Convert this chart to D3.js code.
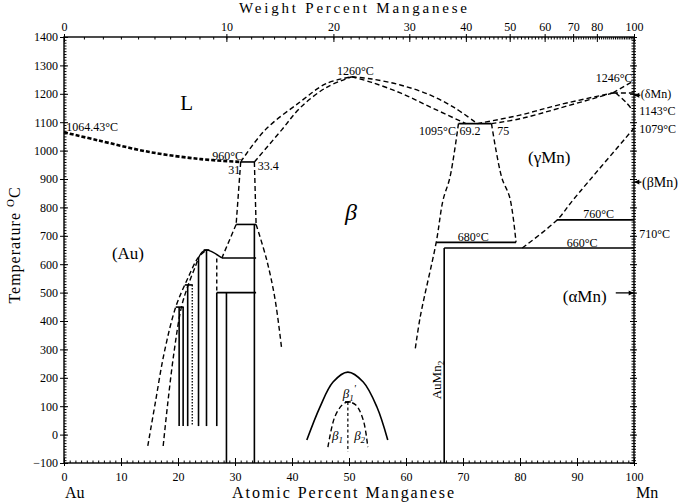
<!DOCTYPE html>
<html><head><meta charset="utf-8">
<script src="https://cdn.jsdelivr.net/npm/d3@7"></script>
<style>body{margin:0;background:#fff}</style>
</head><body><svg id="c" width="685" height="504"></svg>
<script>
// ---------------- DATA ----------------
const atTicks   = [0,10,20,30,40,50,60,70,80,90,100];
const wtTicks   = [0,10,20,30,40,50,60,70,80,100];
const tempTicks = [-100,0,100,200,300,400,500,600,700,800,900,1000,1100,1200,1300,1400];

// liquidus / solidus (at.% Mn, °C)
const liqAu      = [[0,1064.43],[6,1036],[15,995],[24,970],[31,960]];
const betaLiqL   = [[31,960],[35.3,1073],[41.4,1171],[46,1236],[50.5,1260]];
const betaSolL   = [[33.4,960],[38.2,1073],[41.4,1150],[46,1222],[50.5,1260]];
const betaLiqR   = [[50.5,1260],[54,1252],[59,1231],[64.2,1196],[68.5,1151],[72.5,1095]];
const betaSolR   = [[50.5,1260],[54,1240],[59,1203],[64.2,1154],[70.5,1095]];
const gamLiq     = [[72.5,1095],[80,1125],[87,1162],[96.3,1203]];
const gamSol     = [[75,1095],[80,1112],[87,1150],[96.3,1203]];
const deltaLiq   = [[96.3,1203],[100,1246]];
const deltaPer   = [[96.3,1203],[100,1203]];
const deltaGam   = [[96.8,1203],[98.6,1170],[99.7,1143]];
const gamBeta    = [[80.4,657],[86.5,756],[89.3,826],[100,1079]];

// solid-state boundaries (dashed)
const auOuter    = [[14.7,-40],[16.0,110],[17.6,290],[19.6,449],[21.6,545],[23.6,625],[25,650]];
const auInner    = [[17.4,-40],[18.2,110],[19.3,290],[20.6,449],[21.8,527],[23.0,590],[23.6,622]];
const b960L      = [[31,960],[30.2,740]];
const b740L      = [[30.2,740],[27.7,622]];
const b960R      = [[33.4,960],[33.7,740]];
const betaLowL   = [[33.7,740],[35.5,620],[37,480],[38.2,300]];
const betaHighL  = [[69.2,1095],[67.7,905],[66.5,826],[65.3,677],[62.5,415],[61.6,298]];
const betaHighR  = [[75,1095],[76.8,905],[78.2,835],[79.3,677]];
const b1Inner    = [[46.3,-44],[47.5,62],[48.8,104],[49.8,115],[51.2,104],[52.5,51],[53.3,-44]];
const b1Center   = [[49.8,115],[49.8,-60]];

// solid lines
const b1Dome     = [[42.6,-19],[44.9,97],[47.2,185],[49.8,220],[52.5,185],[54.9,97],[56.8,-19]];
const au3Dome    = [[23.6,622],[24.2,642],[25,650],[26,643],[27.7,622]];
// horizontals: [xFrom, xTo, T]
const isotherms  = [[31,33.4,960],[30.2,33.7,740],[27.7,33.7,622],[26.8,33.7,500],
                    [19.6,21.0,449],[21.2,22.6,527],[24.5,25.5,650],[49.3,50.3,115],
                    [69.2,75,1095],[65.3,79.3,677],[66.7,100,657],[86.5,100,756]];
// verticals: [x, Ttop, Tbottom]
const solidVert  = [[20.2,449,30],[20.9,449,30],[21.7,527,30],[23.6,622,30],[25.0,650,30],
                    [26.8,500,30],[28.5,500,-100],[33.4,740,-100],[66.7,657,-100]];
const dottedVert = [[22.5,527,30]];
const dashedVert = [[26.8,620,500]];

// ---------------- LAYOUT ----------------
const svg = d3.select('#c');
const x = d3.scaleLinear().domain([0,100]).range([64,634]);
const y = d3.scaleLinear().domain([-100,1400]).range([463,37]);
const wtToAt = w => { const a=w/54.938, b=(100-w)/196.967; return 100*a/(a+b); };
const SERIF = "'Liberation Serif','DejaVu Serif',serif";

svg.append('rect').attr('width',685).attr('height',504).attr('fill','#fff');

function styleAxis(g){
  g.select('.domain').remove();
  g.selectAll('line').attr('stroke','#000').attr('stroke-width',1);
  g.selectAll('text').attr('font-family',SERIF).attr('font-size',12).attr('fill','#000');
}
const blank = () => '';
const fmt = d3.format('d');
const atMinor = d3.range(0,101,1);
const wtMinor = d3.range(0,101,1).map(wtToAt);
const tMinor  = d3.range(-100,1401,10);

// bottom
const gb = svg.append('g').attr('transform',`translate(0,${y(-100)})`);
gb.append('g').call(d3.axisBottom(x).tickValues(atTicks).tickSize(3).tickPadding(6).tickFormat(fmt)).call(styleAxis);
gb.append('g').call(d3.axisBottom(x).tickValues(atTicks).tickSize(-5).tickFormat(blank)).call(styleAxis);
gb.append('g').call(d3.axisBottom(x).tickValues(atMinor).tickSize(-2.5).tickFormat(blank)).call(styleAxis);
// top (weight percent)
const gt = svg.append('g').attr('transform',`translate(0,${y(1400)})`);
gt.append('g').call(d3.axisTop(x).tickValues(wtTicks.map(wtToAt)).tickSize(3).tickPadding(3).tickFormat((d,i)=>wtTicks[i])).call(styleAxis);
gt.append('g').call(d3.axisTop(x).tickValues(wtTicks.map(wtToAt)).tickSize(-5).tickFormat(blank)).call(styleAxis);
gt.append('g').call(d3.axisTop(x).tickValues(wtMinor).tickSize(-2.5).tickFormat(blank)).call(styleAxis);
// left
const gl = svg.append('g').attr('transform',`translate(${x(0)},0)`);
gl.append('g').call(d3.axisLeft(y).tickValues(tempTicks).tickSize(4).tickPadding(2).tickFormat(fmt)).call(styleAxis);
gl.append('g').call(d3.axisLeft(y).tickValues(tempTicks).tickSize(-4).tickFormat(blank)).call(styleAxis);
gl.append('g').call(d3.axisLeft(y).tickValues(tMinor).tickSize(-2.5).tickFormat(blank)).call(styleAxis);
// right
const gr = svg.append('g').attr('transform',`translate(${x(100)},0)`);
gr.append('g').call(d3.axisRight(y).tickValues(tempTicks).tickSize(3).tickFormat(blank)).call(styleAxis);
gr.append('g').call(d3.axisRight(y).tickValues(tempTicks).tickSize(-4).tickFormat(blank)).call(styleAxis);
gr.append('g').call(d3.axisRight(y).tickValues(tMinor).tickSize(-2.5).tickFormat(blank)).call(styleAxis);
gr.append('g').call(d3.axisRight(y).tickValues(tMinor).tickSize(2).tickFormat(blank)).call(styleAxis);

// frame
svg.append('rect').attr('x',x(0)).attr('y',y(1400)).attr('width',x(100)-x(0))
  .attr('height',y(-100)-y(1400)).attr('fill','none').attr('stroke','#000').attr('stroke-width',1.4);

// ---------------- LINES ----------------
const straight = d3.line().x(d=>x(d[0])).y(d=>y(d[1]));
const smooth = d3.line().x(d=>x(d[0])).y(d=>y(d[1])).curve(d3.curveCatmullRom.alpha(0.5));
function path(pts, gen, dash, w){
  svg.append('path').attr('d',gen(pts)).attr('fill','none').attr('stroke','#000')
    .attr('stroke-width',w).attr('stroke-dasharray',dash);
}
const D = '5,3';
path(liqAu, smooth, '4,2', 2.6);
[betaLiqL,betaSolL,betaLiqR,betaSolR,gamLiq,gamSol,deltaGam,gamBeta,auOuter,auInner,
 betaLowL,betaHighL,betaHighR,b1Inner].forEach(p=>path(p, smooth, D, 1.4));
[deltaLiq,deltaPer,b960L,b740L,b960R].forEach(p=>path(p, straight, D, 1.4));
path(b1Center, straight, '3,2.5', 1.2);
path(b1Dome, smooth, null, 1.6);
path(au3Dome, smooth, null, 1.4);

svg.append('g').selectAll('line').data(isotherms).join('line')
  .attr('x1',d=>x(d[0])).attr('x2',d=>x(d[1])).attr('y1',d=>y(d[2])).attr('y2',d=>y(d[2]))
  .attr('stroke','#000').attr('stroke-width',1.6);
svg.append('g').selectAll('line').data(solidVert).join('line')
  .attr('x1',d=>x(d[0])).attr('x2',d=>x(d[0])).attr('y1',d=>y(d[1])).attr('y2',d=>y(d[2]))
  .attr('stroke','#000').attr('stroke-width',1.6);
svg.append('g').selectAll('line').data(dottedVert).join('line')
  .attr('x1',d=>x(d[0])).attr('x2',d=>x(d[0])).attr('y1',d=>y(d[1])).attr('y2',d=>y(d[2]))
  .attr('stroke','#000').attr('stroke-width',1.3).attr('stroke-dasharray','1.5,1.5');
svg.append('g').selectAll('line').data(dashedVert).join('line')
  .attr('x1',d=>x(d[0])).attr('x2',d=>x(d[0])).attr('y1',d=>y(d[1])).attr('y2',d=>y(d[2]))
  .attr('stroke','#000').attr('stroke-width',1.4).attr('stroke-dasharray','4,3');

// ---------------- ARROWS ----------------
const arrows = [[101.1,100.05,1195],[101.3,100.05,889],[96.8,99.95,499]];
arrows.forEach(a=>{
  const x1=x(a[0]), x2=x(a[1]), yy=y(a[2]), dir = x2>x1?1:-1;
  svg.append('line').attr('x1',x1).attr('x2',x2).attr('y1',yy).attr('y2',yy).attr('stroke','#000').attr('stroke-width',1.3);
  svg.append('path').attr('d',`M${x2},${yy} l${-dir*5},-2.5 l0,5 z`).attr('fill','#000');
});

// ---------------- TEXT ----------------
function label(t, xv, tv, size, opts={}){
  const el = svg.append('text').attr('x',x(xv)).attr('y',y(tv)).attr('font-family',SERIF)
    .attr('font-size',size).attr('fill','#000').attr('text-anchor',opts.anchor||'start').text(t);
  if(opts.italic) el.attr('font-style','italic');
  if(opts.len) el.attr('textLength',opts.len).attr('lengthAdjust','spacingAndGlyphs');
  return el;
}
label('1064.43°C', 0.4, 1070, 12);
label('960°C', 26.0, 967, 12);
label('31', 28.8, 918, 12);
label('33.4', 34.0, 932, 12);
label('1260°C', 47.9, 1266, 12);
label('1095°C', 62.3, 1055, 12);
label('69.2', 69.4, 1055, 12);
label('75', 76.0, 1055, 12);
label('1246°C', 93.3, 1242, 12);
label('(δMn)', 101.2, 1185, 12);
label('1143°C', 100.9, 1125, 12);
label('1079°C', 100.9, 1062, 12);
label('(βMn)', 101.4, 872, 14);
label('710°C', 100.9, 692, 12);
label('680°C', 69.1, 682, 12);
label('760°C', 91.1, 763, 12);
label('660°C', 88.2, 661, 12);
label('(αMn)', 87.5, 467, 17);
label('(γMn)', 81.4, 956, 17);
label('L', 20.4, 1143, 21);
label('β', 49.3, 756, 24, {italic:true});
label('(Au)', 8.4, 618, 17);
const b1p = label('β', 48.9, 129, 13, {italic:true}); b1p.append('tspan').attr('font-size',9).attr('dy',3).text('1'); b1p.append('tspan').attr('font-size',10).attr('dy',-9).text("'");
const b1 = label('β', 47.0, -19, 13, {italic:true}); b1.append('tspan').attr('font-size',9).attr('dy',3).text('1');
const b2 = label('β', 50.9, -19, 13, {italic:true}); b2.append('tspan').attr('font-size',9).attr('dy',3).text('2');
const am = svg.append('text').attr('transform',`translate(${x(66.1)},${y(192)}) rotate(-90)`)
  .attr('font-family',SERIF).attr('font-size',13).attr('text-anchor','middle').text('AuMn');
am.append('tspan').attr('font-size',9).attr('dy',3).text('2');

// axis titles
svg.append('text').attr('x',353).attr('y',13).attr('text-anchor','middle').attr('font-family',SERIF)
  .attr('font-size',15).attr('textLength',228).attr('lengthAdjust','spacing').text('Weight Percent Manganese');
svg.append('text').attr('x',343).attr('y',498).attr('text-anchor','middle').attr('font-family',SERIF)
  .attr('font-size',16).attr('textLength',222).attr('lengthAdjust','spacing').text('Atomic Percent Manganese');
svg.append('text').attr('x',65).attr('y',498).attr('font-family',SERIF).attr('font-size',16).text('Au');
svg.append('text').attr('x',636).attr('y',498).attr('font-family',SERIF).attr('font-size',16).text('Mn');
const yt = svg.append('text').attr('transform','translate(20,245) rotate(-90)').attr('text-anchor','middle')
  .attr('font-family',SERIF).attr('font-size',16).attr('letter-spacing',1).text('Temperature ');
yt.append('tspan').attr('font-size',11).attr('dy',-6).text('O');
yt.append('tspan').attr('dy',6).text('C');
</script></body></html>
